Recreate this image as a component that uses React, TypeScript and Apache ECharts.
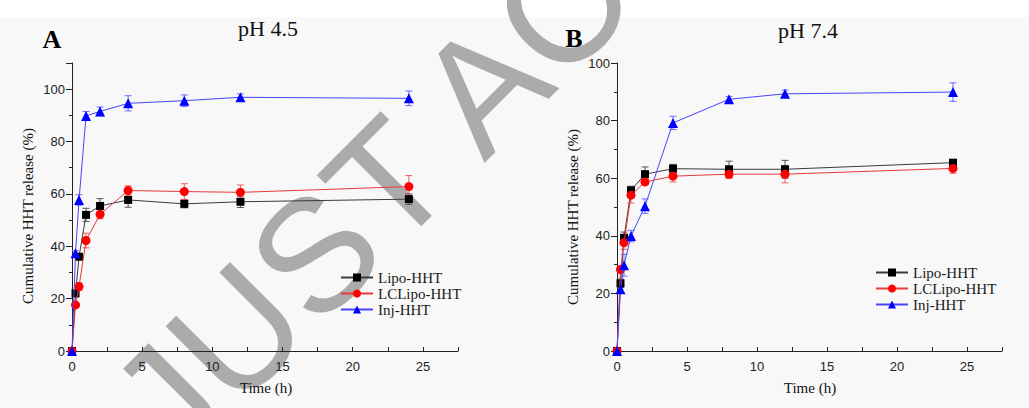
import React, { useEffect, useRef } from 'react';
import * as echarts from 'echarts';

// ---- data ----
const times = [0, 0.25, 0.5, 1, 2, 4, 8, 12, 24];
const seriesNames = ['Lipo-HHT', 'LCLipo-HHT', 'Inj-HHT'];
const xTickLabels = ['0', '5', '10', '15', '20', '25'];

// pH 4.5
const lipoA = [0, 22, 36, 52, 55.4, 57.7, 56.2, 57, 58];
const lcA = [0, 17.6, 24.6, 42.2, 52.2, 61.3, 60.9, 60.6, 62.8];
const injA = [0, 37.3, 57.7, 89.8, 91.5, 94.6, 95.6, 96.9, 96.5];
const lipoErrA = [0, 1, 1, 2.5, 2.8, 2.8, 1.5, 2.2, 2];
const lcErrA = [0, 1, 1.5, 2.8, 1.7, 1.8, 3, 2.8, 4.2];
const injErrA = [0, 1, 2, 1.7, 1.7, 2.9, 2.2, 1.3, 2.8];

// pH 7.4
const lipoB = [0, 23.5, 39.3, 55.8, 61.4, 63.3, 63.1, 63.1, 65.4];
const lcB = [0, 28.3, 37.6, 54.1, 58.7, 60.7, 61.4, 61.4, 63.4];
const injB = [0, 21.4, 29.8, 39.9, 50.3, 79.2, 87.4, 89.3, 89.9];
const lipoErrB = [0, 1.5, 2, 1.4, 2.5, 1.5, 2.8, 3.1, 1];
const lcErrB = [0, 1, 2.3, 2.7, 1, 2, 1.5, 3, 1.7];
const injErrB = [0, 1, 3.8, 2, 2.5, 2.3, 1, 1.3, 3.2];

const SERIF = "'Liberation Serif', 'Times New Roman', serif";
const SANS = "'Liberation Sans', Arial, sans-serif";

const markerColors = ['#000000', '#ff0000', '#0000ff'];
const lineColors = ['#3a3a3a', '#e83a3a', '#4646ff'];
const errColors = ['#555555', '#f06060', '#6a6aff'];
const symbols = ['rect', 'circle', 'triangle'];
const symbolSizes = [8, 9, 10];

function lineSeries(idx: number, values: number[], axis: number) {
  return {
    type: 'line',
    name: seriesNames[idx],
    xAxisIndex: axis,
    yAxisIndex: axis,
    data: times.map((t, i) => [t, values[i]]),
    symbol: symbols[idx],
    symbolSize: symbolSizes[idx],
    showAllSymbol: true,
    itemStyle: { color: markerColors[idx] },
    lineStyle: { color: lineColors[idx], width: 1 },
    z: 3 + idx,
    clip: false,
  };
}

function errSeries(idx: number, values: number[], errs: number[], axis: number) {
  const color = errColors[idx];
  return {
    type: 'custom',
    name: seriesNames[idx] + ' error',
    xAxisIndex: axis,
    yAxisIndex: axis,
    silent: true,
    z: 2,
    data: times.map((t, i) => [t, values[i], errs[i]]).filter((d) => d[2] > 0),
    renderItem: (params: any, api: any) => {
      const x = api.value(0);
      const y = api.value(1);
      const e = api.value(2);
      const top = api.coord([x, y + e]);
      const bot = api.coord([x, y - e]);
      const w = 3.5;
      const st = { stroke: color, lineWidth: 1 };
      return {
        type: 'group',
        children: [
          { type: 'line', shape: { x1: top[0], y1: top[1], x2: bot[0], y2: bot[1] }, style: st },
          { type: 'line', shape: { x1: top[0] - w, y1: top[1], x2: top[0] + w, y2: top[1] }, style: st },
          { type: 'line', shape: { x1: bot[0] - w, y1: bot[1], x2: bot[0] + w, y2: bot[1] }, style: st },
        ],
      };
    },
  };
}

function xAxis(grid: number) {
  return {
    gridIndex: grid,
    type: 'value',
    min: 0,
    max: 27.5,
    interval: 2.5,
    axisLine: { show: true, onZero: false, lineStyle: { color: '#222', width: 1 } },
    axisTick: { show: true, inside: true, length: 4, lineStyle: { color: '#222' } },
    axisLabel: {
      formatter: (v: number) => (xTickLabels.indexOf(String(v)) >= 0 ? String(v) : ''),
      fontFamily: SANS,
      fontSize: 13,
      color: '#222',
      margin: 9,
    },
    splitLine: { show: false },
  };
}

function yAxis(grid: number, max: number) {
  return {
    gridIndex: grid,
    type: 'value',
    min: 0,
    max,
    interval: 20,
    axisLine: { show: true, lineStyle: { color: '#222', width: 1 } },
    axisTick: { show: true, length: 6, lineStyle: { color: '#222' } },
    minorTick: { show: true, splitNumber: 2, length: 3, lineStyle: { color: '#222' } },
    axisLabel: {
      formatter: (v: number) => (v <= 100 && v % 20 === 0 ? String(v) : ''),
      fontFamily: SANS,
      fontSize: 13,
      color: '#222',
      margin: 7,
    },
    splitLine: { show: false },
    minorSplitLine: { show: false },
  };
}

function legend(left: number, top: number) {
  return {
    data: seriesNames,
    orient: 'vertical',
    left,
    top,
    itemWidth: 32,
    itemHeight: 10,
    itemGap: 1,
    selectedMode: false,
    textStyle: { fontFamily: SERIF, fontSize: 15, color: '#1a1a1a' },
  };
}

function txt(text: string, x: number, y: number, size: number, extra: any = {}) {
  return {
    type: 'text',
    x,
    y,
    z: 10,
    rotation: extra.rotation || 0,
    style: {
      text,
      fontFamily: extra.family || SERIF,
      fontSize: size,
      fontWeight: extra.weight || 'normal',
      fill: extra.fill || '#111',
      align: extra.align || 'center',
      verticalAlign: 'middle',
    },
  };
}

export default function App() {
  const ref = useRef<HTMLDivElement>(null);
  useEffect(() => {
    if (!ref.current) return;
    const chart = echarts.init(ref.current, null, { renderer: 'svg' });
    chart.setOption({
      animation: false,
      backgroundColor: '#ffffff',
      grid: [
        { left: 72, top: 63, width: 386, height: 288 },
        { left: 617, top: 63, width: 385, height: 288 },
      ],
      xAxis: [xAxis(0), xAxis(1)],
      yAxis: [yAxis(0, 110), yAxis(1, 100)],
      legend: [legend(335, 265), legend(870, 260)],
      series: [
        errSeries(0, lipoA, lipoErrA, 0),
        errSeries(1, lcA, lcErrA, 0),
        errSeries(2, injA, injErrA, 0),
        lineSeries(0, lipoA, 0),
        lineSeries(1, lcA, 0),
        lineSeries(2, injA, 0),
        errSeries(0, lipoB, lipoErrB, 1),
        errSeries(1, lcB, lcErrB, 1),
        errSeries(2, injB, injErrB, 1),
        lineSeries(0, lipoB, 1),
        lineSeries(1, lcB, 1),
        lineSeries(2, injB, 1),
      ],
      graphic: [
        { type: 'rect', z: -10, shape: { x: 0, y: 17, width: 1029, height: 391 }, style: { fill: '#f8f8f8' } },
        {
          type: 'text',
          x: 139,
          y: 430,
          z: -5,
          rotation: Math.PI / 4,
          style: {
            text: 'JUST ACCEPTED',
            fontFamily: SANS,
            fontSize: 160,
            fill: '#ababab',
            align: 'left',
            verticalAlign: 'middle',
          },
        },
        txt('pH 4.5', 268, 28, 22),
        txt('pH 7.4', 808, 30, 22),
        txt('A', 52, 39, 26, { weight: 'bold', fill: '#000' }),
        txt('B', 574, 38, 26, { weight: 'bold', fill: '#000' }),
        txt('Cumulative HHT release (%)', 28, 216, 15, { rotation: Math.PI / 2 }),
        txt('Cumulative HHT release (%)', 573, 217, 15, { rotation: Math.PI / 2 }),
        txt('Time (h)', 266, 388, 15),
        txt('Time (h)', 810, 388, 15),
      ],
    });
    return () => chart.dispose();
  }, []);
  return <div ref={ref} style={{ position: 'fixed', left: 0, top: 0, width: 1029, height: 408 }} />;
}
